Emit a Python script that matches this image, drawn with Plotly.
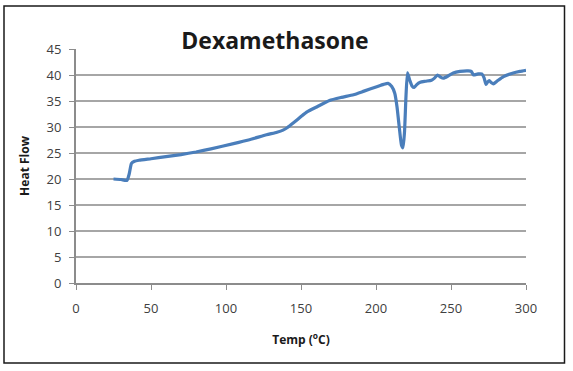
import plotly.graph_objects as go

temp = [25, 30, 34, 35.5, 37, 39, 42, 50, 60, 70, 80, 90, 105, 115, 127, 134, 138, 141, 145, 150, 154, 160, 169, 177, 185, 192, 200, 205, 208, 210.5, 212.5, 214, 215.5, 217, 218, 219, 220, 221, 222.5, 224, 225.5, 227, 229.5, 233, 237, 239, 241, 243, 245, 248, 251.5, 256, 261.5, 263.5, 265, 268, 270.5, 272, 273.3, 274.5, 275.5, 277, 278.2, 281, 285, 291.5, 296, 300]
heat = [20.0, 19.9, 19.75, 21.0, 23.0, 23.4, 23.6, 23.9, 24.3, 24.7, 25.2, 25.8, 26.8, 27.5, 28.5, 29.0, 29.4, 29.9, 30.8, 32.0, 32.9, 33.8, 35.1, 35.7, 36.2, 36.9, 37.7, 38.2, 38.4, 37.8, 36.5, 33.9, 30.0, 26.5, 26.0, 29.0, 36.0, 40.4, 39.0, 37.9, 37.6, 38.1, 38.6, 38.8, 39.0, 39.4, 40.0, 39.6, 39.4, 39.8, 40.4, 40.7, 40.8, 40.7, 40.0, 40.2, 40.2, 39.5, 38.2, 38.7, 38.9, 38.5, 38.3, 38.9, 39.7, 40.4, 40.7, 40.9]

x_ticks = [0, 50, 100, 150, 200, 250, 300]
y_ticks = [0, 5, 10, 15, 20, 25, 30, 35, 40, 45]

fig = go.Figure()
fig.add_trace(go.Scatter(
    x=temp, y=heat, mode="lines",
    line=dict(color="#4a7ebb", width=3.2, shape="spline", smoothing=0.5),
    showlegend=False, hoverinfo="skip",
))

fig.update_layout(
    width=573, height=371,
    margin=dict(l=76, r=47, t=49, b=88),
    paper_bgcolor="white", plot_bgcolor="white",
    font=dict(family="Open Sans, Liberation Sans, sans-serif", color="#404040"),
    title=dict(
        text="<b>Dexamethasone</b>",
        font=dict(size=23, color="#1a1a1a", family="Open Sans, sans-serif"),
        x=275 / 573, xanchor="center", y=1 - 41 / 371, yanchor="middle",
    ),
    xaxis=dict(
        range=[0, 300], tickvals=x_ticks, ticktext=[str(v) for v in x_ticks],
        showgrid=False, zeroline=False,
        showline=True, linecolor="#8c8c8c", linewidth=2,
        ticks="outside", ticklen=5, tickcolor="#8c8c8c", tickwidth=1,
        ticklabelstandoff=7,
        tickfont=dict(size=13, color="#404040"),
        title=dict(text="<b>Temp (<sup>o</sup>C)</b>", font=dict(size=12, color="#1a1a1a"), standoff=20),
    ),
    yaxis=dict(
        range=[0, 45], tickvals=y_ticks, ticktext=[str(v) for v in y_ticks],
        showgrid=True, gridcolor="#a6a6a6", gridwidth=1.5,
        zeroline=False,
        showline=True, linecolor="#8c8c8c", linewidth=2,
        ticks="outside", ticklen=5, tickcolor="#8c8c8c", tickwidth=1,
        ticklabelstandoff=5,
        tickfont=dict(size=13, color="#404040"),
        title=dict(text="<b>Heat Flow</b>", font=dict(size=12, color="#1a1a1a"), standoff=14),
    ),
    shapes=[dict(
        type="rect", xref="paper", yref="paper",
        x0=(4 - 76) / 450, x1=(564.5 - 76) / 450,
        y0=(283 - 363) / 234, y1=(283 - 6) / 234,
        line=dict(color="#1a1a1a", width=1.5), fillcolor="rgba(0,0,0,0)", layer="below",
    )],
)

fig.write_html(
    "out.html",
    config={"displayModeBar": False},
    post_script="document.body.style.margin='0';document.body.style.padding='0';",
)
